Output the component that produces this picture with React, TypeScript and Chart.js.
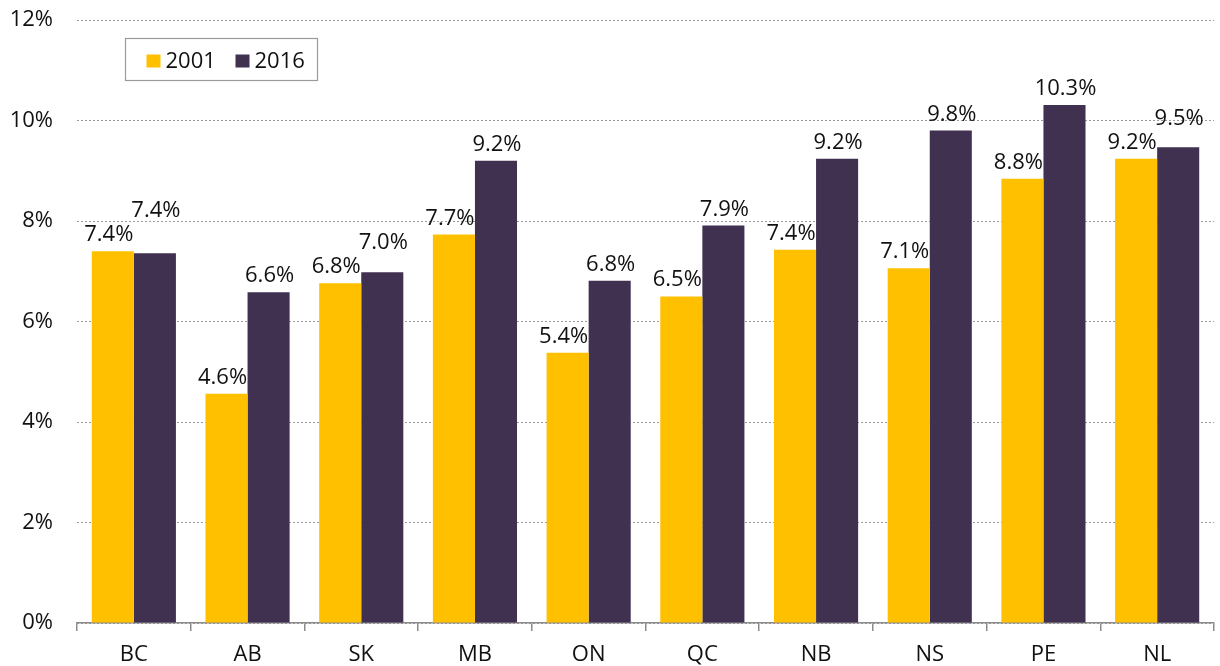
import React, { useEffect, useRef } from "react";
import { Chart, registerables } from "chart.js";

Chart.register(...registerables);

const categories = ["BC", "AB", "SK", "MB", "ON", "QC", "NB", "NS", "PE", "NL"];
const series2001 = [7.4, 4.56, 6.76, 7.73, 5.38, 6.5, 7.43, 7.06, 8.84, 9.24];
const series2016 = [7.36, 6.58, 6.98, 9.2, 6.81, 7.91, 9.24, 9.8, 10.31, 9.47];
const seriesNames = ["2001", "2016"];
const yTicks = [0, 2, 4, 6, 8, 10, 12];

const COLOR_2001 = "#FFC000";
const COLOR_2016 = "#413151";
const FONT = "'Open Sans', 'Noto Sans', sans-serif";
const FONT_SIZE = 22;

const labelPlugin = {
  id: "barLabels",
  afterDatasetsDraw(chart: any) {
    const ctx = chart.ctx;
    const m0 = chart.getDatasetMeta(0);
    const m1 = chart.getDatasetMeta(1);
    const gap = 10;
    const lineH = 24;
    ctx.save();
    ctx.font = `${FONT_SIZE}px ${FONT}`;
    ctx.fillStyle = "#111";
    ctx.textAlign = "center";
    ctx.textBaseline = "alphabetic";
    for (let i = 0; i < categories.length; i++) {
      const b0 = m0.data[i];
      const b1 = m1.data[i];
      const y0 = b0.y - gap;
      let y1 = b1.y - gap;
      if (Math.abs(y0 - y1) < 16) {
        y1 = Math.min(y1, y0 - lineH);
      }
      ctx.fillText(series2001[i].toFixed(1) + "%", b0.x - 4, y0);
      ctx.fillText(series2016[i].toFixed(1) + "%", b1.x + 1, y1);
    }
    ctx.restore();
  },
};

const legendPlugin = {
  id: "boxLegend",
  afterDraw(chart: any) {
    const ctx = chart.ctx;
    const area = chart.chartArea;
    const x = Math.round(area.left + 48) + 0.5;
    const y = Math.round(area.top + 18) + 0.5;
    const w = 192;
    const h = 42;
    ctx.save();
    ctx.strokeStyle = "#9a9a9a";
    ctx.lineWidth = 1.2;
    ctx.fillStyle = "#ffffff";
    ctx.fillRect(x, y, w, h);
    ctx.strokeRect(x, y, w, h);
    ctx.font = `${FONT_SIZE}px ${FONT}`;
    ctx.textBaseline = "alphabetic";
    ctx.textAlign = "left";
    const items = [
      { label: seriesNames[0], color: COLOR_2001, dx: 21 },
      { label: seriesNames[1], color: COLOR_2016, dx: 110 },
    ];
    for (const it of items) {
      ctx.fillStyle = it.color;
      ctx.fillRect(x + it.dx, y + 16, 14, 13);
      ctx.fillStyle = "#111";
      ctx.fillText(it.label, x + it.dx + 19, y + 29);
    }
    ctx.restore();
  },
};

export default function App() {
  const canvasRef = useRef<HTMLCanvasElement | null>(null);

  useEffect(() => {
    document.body.style.margin = "0";
    const canvas = canvasRef.current;
    if (!canvas) return;
    const chart = new Chart(canvas, {
      type: "bar",
      data: {
        labels: categories,
        datasets: [
          {
            label: seriesNames[0],
            data: series2001,
            backgroundColor: COLOR_2001,
            borderWidth: 0,
            categoryPercentage: 0.74,
            barPercentage: 1.0,
          },
          {
            label: seriesNames[1],
            data: series2016,
            backgroundColor: COLOR_2016,
            borderWidth: 0,
            categoryPercentage: 0.74,
            barPercentage: 1.0,
          },
        ],
      },
      options: {
        responsive: false,
        animation: false,
        devicePixelRatio: 1,
        layout: { padding: { top: 20, right: 6, bottom: 0, left: 0 } },
        plugins: {
          legend: { display: false },
          tooltip: { enabled: false },
        },
        scales: {
          x: {
            grid: {
              offset: true,
              drawOnChartArea: false,
              drawTicks: true,
              tickLength: 8,
              color: "#8c8c8c",
              lineWidth: 1.5,
            },
            border: { display: true, color: "#8c8c8c", width: 1.5 },
            ticks: {
              color: "#111",
              font: { family: FONT, size: FONT_SIZE },
              padding: 11,
            },
            afterFit(scale: any) {
              scale.height = 43;
            },
          },
          y: {
            min: 0,
            max: 12,
            afterBuildTicks(scale: any) {
              scale.ticks = yTicks.map((v) => ({ value: v }));
            },
            grid: {
              drawTicks: false,
              color: "#9a9a9a",
              lineWidth: 1,
            },
            border: { display: false, dash: [2, 2] },
            ticks: {
              color: "#111",
              font: { family: FONT, size: FONT_SIZE },
              padding: 24,
              callback: (v: any) => `${v}%`,
            },
            afterFit(scale: any) {
              scale.width = 77;
              scale.paddingTop = 0;
              scale.paddingBottom = 0;
            },
          },
        },
      },
      plugins: [labelPlugin, legendPlugin],
    });
    return () => chart.destroy();
  }, []);

  return (
    <div style={{ width: 1220, height: 666 }}>
      <canvas ref={canvasRef} width={1220} height={666} style={{ display: "block" }} />
    </div>
  );
}
